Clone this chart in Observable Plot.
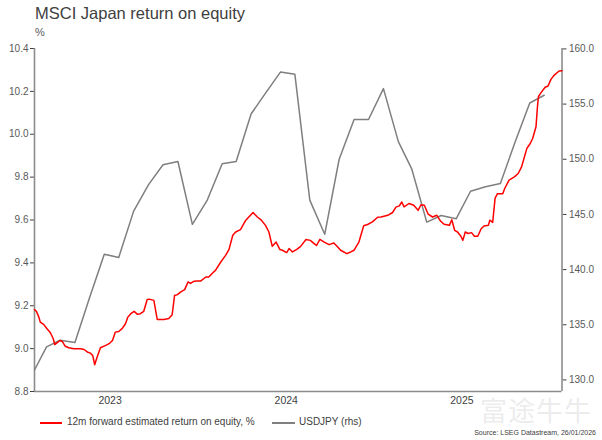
<!DOCTYPE html>
<html><head><meta charset="utf-8">
<script src="https://cdn.jsdelivr.net/npm/d3@7"></script>
<script src="https://cdn.jsdelivr.net/npm/@observablehq/plot@0.6"></script>
<style>
body{margin:0;background:#fff;font-family:"Liberation Sans",Arial,sans-serif;}
#wrap{position:relative;width:602px;height:440px;overflow:hidden;}
#title{position:absolute;left:35px;top:4px;font-size:16.5px;color:#404040;white-space:nowrap;}
#unit{position:absolute;left:35px;top:26px;font-size:11px;color:#595959;}
#chart{position:absolute;left:0;top:40px;}
#wm{position:absolute;left:480px;top:396px;font-size:27px;line-height:1;color:#000;opacity:0.07;font-family:"Noto Sans CJK SC",sans-serif;letter-spacing:1px;}
.leg{position:absolute;top:416px;font-size:10px;color:#404040;white-space:nowrap;}
.sw{position:absolute;top:422px;height:2px;}
#src{position:absolute;right:6px;top:429px;font-size:7px;line-height:1;color:#404040;white-space:nowrap;}
</style></head>
<body><div id="wrap">
<div id="title">MSCI Japan return on equity</div>
<div id="unit">%</div>
<div id="wm">富途牛牛</div>
<div id="chart"></div>
<div class="sw" style="left:40px;width:22px;background:#ff0000"></div>
<div class="leg" style="left:67px">12m forward estimated return on equity, %</div>
<div class="sw" style="left:272px;width:23px;background:#7f7f7f"></div>
<div class="leg" style="left:299px">USDJPY (rhs)</div>
<div id="src">Source: LSEG Datastream, 26/01/2026</div>
</div>
<script>
// 12m forward estimated ROE, % (left axis)
const roeDates = ["2023-01-26","2023-01-30","2023-02-04","2023-02-07","2023-02-14","2023-02-21","2023-02-28","2023-03-06","2023-03-09","2023-03-13",
"2023-03-20","2023-03-25","2023-03-31","2023-04-07","2023-04-18","2023-05-02","2023-05-09","2023-05-17","2023-05-22","2023-05-27",
"2023-05-31","2023-06-05","2023-06-12","2023-06-23","2023-06-30","2023-07-07","2023-07-13","2023-07-20","2023-07-27","2023-08-03",
"2023-08-08","2023-08-14","2023-08-21","2023-08-28","2023-09-03","2023-09-10","2023-09-17","2023-09-21","2023-10-01","2023-10-08",
"2023-10-22","2023-11-01","2023-11-08","2023-11-13","2023-11-19","2023-11-26","2023-12-04","2023-12-11","2023-12-16","2023-12-23",
"2023-12-29","2024-01-06","2024-01-17","2024-01-23","2024-01-31","2024-02-06","2024-02-17","2024-02-27","2024-03-05","2024-03-13",
"2024-03-19","2024-03-29","2024-04-09","2024-04-24","2024-05-03","2024-05-10","2024-05-20","2024-05-27","2024-06-03","2024-06-11",
"2024-06-19","2024-06-24","2024-07-03","2024-07-08","2024-07-15","2024-07-24","2024-08-01","2024-08-12","2024-08-21","2024-08-29",
"2024-09-03","2024-09-10","2024-09-19","2024-09-29","2024-10-09","2024-10-17","2024-10-23","2024-11-05","2024-11-13","2024-11-20",
"2024-11-30","2024-12-10","2024-12-18","2024-12-28","2025-01-08","2025-01-15","2025-01-29","2025-02-08","2025-02-15","2025-02-22",
"2025-02-27","2025-03-04","2025-03-14","2025-03-24","2025-04-02","2025-04-08","2025-04-15","2025-04-23","2025-05-02","2025-05-11",
"2025-05-19","2025-05-26","2025-06-06","2025-06-11","2025-06-17","2025-06-23","2025-06-30","2025-07-04","2025-07-09","2025-07-15",
"2025-07-22","2025-07-28","2025-08-04","2025-08-11","2025-08-17","2025-08-26","2025-08-29","2025-09-04","2025-09-09","2025-09-14",
"2025-09-25","2025-09-29","2025-10-08","2025-10-19","2025-10-27","2025-11-03","2025-11-09","2025-11-14","2025-11-21","2025-11-26",
"2025-12-03","2025-12-06","2025-12-08","2025-12-13","2025-12-22","2025-12-28","2026-01-03","2026-01-10","2026-01-20","2026-01-26"];
const roeValues = [9.182,9.174,9.147,9.124,9.113,9.093,9.074,9.046,9.019,9.026,
9.038,9.033,9.011,9.004,8.999,8.999,8.996,8.983,8.979,8.968,
8.925,8.960,9.004,9.015,9.023,9.038,9.077,9.080,9.093,9.116,
9.147,9.163,9.174,9.160,9.163,9.174,9.228,9.231,9.225,9.136,
9.136,9.140,9.158,9.248,9.252,9.265,9.275,9.311,9.304,9.314,
9.315,9.315,9.334,9.334,9.353,9.365,9.404,9.435,9.462,9.529,
9.544,9.555,9.599,9.635,9.614,9.602,9.575,9.544,9.477,9.497,
9.462,9.459,9.448,9.467,9.451,9.463,9.477,9.509,9.505,9.490,
9.481,9.510,9.497,9.485,9.493,9.474,9.459,9.443,9.451,9.459,
9.497,9.573,9.579,9.591,9.613,9.614,9.622,9.635,9.660,9.666,
9.684,9.661,9.677,9.669,9.645,9.671,9.669,9.627,9.614,9.622,
9.594,9.580,9.575,9.601,9.552,9.544,9.524,9.505,9.544,9.537,
9.541,9.524,9.524,9.559,9.572,9.575,9.599,9.589,9.702,9.723,
9.723,9.747,9.786,9.801,9.817,9.848,9.895,9.934,9.957,9.980,
10.035,10.128,10.175,10.193,10.219,10.225,10.256,10.276,10.295,10.296];

// USDJPY (right axis)
const fxDates = ["2023-01-26","2023-02-20","2023-03-20","2023-04-20","2023-05-20","2023-06-20","2023-07-20","2023-08-20","2023-09-20","2023-10-20",
"2023-11-20","2023-12-20","2024-01-20","2024-02-20","2024-03-20","2024-04-20","2024-05-20","2024-06-20","2024-07-20","2024-08-20",
"2024-09-20","2024-10-20","2024-11-20","2024-12-20","2025-01-20","2025-02-20","2025-03-20","2025-04-20","2025-05-20","2025-06-20",
"2025-07-20","2025-08-20","2025-09-20","2025-10-20","2025-11-20","2025-12-20"];
const fxValues = [130.9,133.0,133.6,133.4,137.4,141.4,141.1,145.3,147.7,149.5,
149.8,144.1,146.3,149.6,149.8,154.1,156.0,157.9,157.7,146.3,
143.2,150.0,153.6,153.6,156.4,151.6,149.1,144.3,144.9,144.6,
147.1,147.5,147.8,151.5,155.1,155.8];

const leftTicks = [8.8,9.0,9.2,9.4,9.6,9.8,10.0,10.2,10.4];
const rightTicks = [130,135,140,145,150,155,160];
const yearLabels = ["2023-07-02","2024-07-02","2025-07-02"];
const xStart = "2023-01-26", xEnd = "2026-01-26";

const roe = roeDates.map((d,i)=>({date:new Date(d), v:roeValues[i]}));
const fx = fxDates.map((d,i)=>({date:new Date(d), v:fxValues[i]}));
const y2 = d3.scaleLinear([130,160],[8.854,10.398]);
const xdom = [new Date(xStart), new Date(xEnd)];

const chart = Plot.plot({
  width:602, height:375,
  marginLeft:34, marginRight:40.5, marginTop:8, marginBottom:24,
  x:{type:"utc", domain:xdom, label:null},
  y:{domain:[8.8,10.4], label:null},
  style:{fontFamily:"'Liberation Sans',Arial,sans-serif", fontSize:"10px", color:"#404040", background:"transparent", overflow:"visible"},
  marks:[
    Plot.axisY(leftTicks, {anchor:"left", label:null, tickSize:4, tickPadding:2, tickFormat:d=>d.toFixed(1), fill:"#595959"}),
    Plot.axisY(rightTicks.map(y2), {anchor:"right", label:null, tickSize:4, tickPadding:3, tickFormat:d=>y2.invert(d).toFixed(1), fill:"#595959"}),
    Plot.axisX(yearLabels.map(d=>new Date(d)), {label:null, tickSize:0, tickPadding:5, tickFormat:d3.utcFormat("%Y"), fill:"#404040", fontSize:10.5}),
    Plot.ruleX(xdom, {stroke:"#8c8c8c", strokeWidth:1.6}),
    Plot.ruleY([8.8], {stroke:"#8c8c8c", strokeWidth:1.6}),
    Plot.line(fx, {x:"date", y:d=>y2(d.v), stroke:"#7f7f7f", strokeWidth:1.5}),
    Plot.line(roe, {x:"date", y:"v", stroke:"#ff0000", strokeWidth:1.5})
  ]
});
document.getElementById("chart").appendChild(chart);
</script>
</body></html>
